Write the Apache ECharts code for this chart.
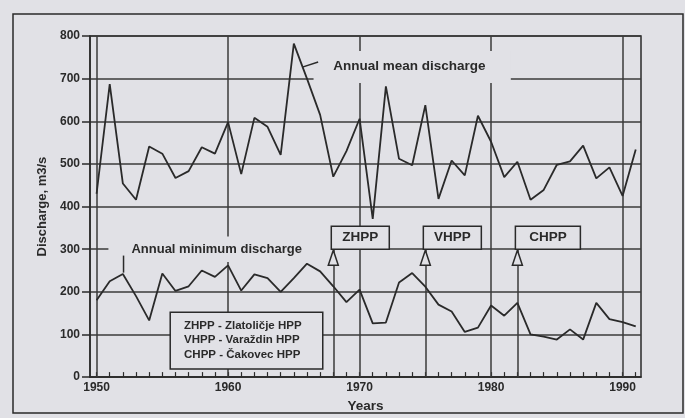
<!DOCTYPE html>
<html><head><meta charset="utf-8">
<script src="https://cdn.jsdelivr.net/npm/echarts@6/dist/echarts.min.js"></script>
<style>html,body{margin:0;padding:0;background:#e1e1e6;}#c{width:685px;height:418px;}</style>
</head><body><div id="c"></div>
<script>
// ---- data ----
const years = [1950,1951,1952,1953,1954,1955,1956,1957,1958,1959,
               1960,1961,1962,1963,1964,1965,1966,1967,1968,1969,
               1970,1971,1972,1973,1974,1975,1976,1977,1978,1979,
               1980,1981,1982,1983,1984,1985,1986,1987,1988,1989,
               1990,1991];
const meanDischarge = [430,687,454,416,541,524,467,483,539,524,
                       598,476,608,587,521,782,700,615,470,530,
                       606,371,682,512,497,638,418,508,473,613,
                       552,469,505,416,439,498,506,543,466,492,
                       425,534];
const minDischarge = [180,225,242,190,133,243,202,213,250,235,
                      262,203,241,232,200,232,266,248,213,176,
                      205,126,128,222,244,212,170,154,106,116,
                      168,144,174,100,95,88,112,88,174,136,
                      129,119];
const xLabelYears = [1950,1960,1970,1980,1990];
const decadeLines = [1950,1960,1970,1980,1990];
const hppYears = [1968,1975,1982];
const hppCodes = ['ZHPP','VHPP','CHPP'];
const legendLines = ['ZHPP - Zlatoličje HPP','VHPP - Varaždin HPP','CHPP - Čakovec HPP'];
const yTitle = 'Discharge, m3/s';
const xTitle = 'Years';
const meanLabel = 'Annual mean discharge';
const minLabel = 'Annual minimum discharge';

// ---- style ----
const BG = '#e1e1e6', INK = '#2a2a2a', GRID = '#3a3a3a';
const FONT = '"Liberation Sans", Arial, Helvetica, sans-serif';

const chart = echarts.init(document.getElementById('c'), null, {renderer:'canvas'});
const option = {
  animation: false,
  backgroundColor: BG,
  grid: {left: 90, right: 44, top: 36, bottom: 40, show: true, borderColor: INK, borderWidth: 1.5, backgroundColor: 'transparent'},
  xAxis: {
    type: 'value', min: 1949.5, max: 1991.4,
    axisLine: {show: true, lineStyle: {color: INK, width: 1.5}},
    axisTick: {show: true, inside: true, length: 5, customValues: years, lineStyle: {color: INK, width: 1.2}},
    axisLabel: {customValues: xLabelYears, margin: 5, color: INK, fontSize: 12, fontWeight: 'bold', fontFamily: FONT, formatter: v => String(v)},
    splitLine: {show: false},
    name: xTitle, nameLocation: 'middle', nameGap: 17,
    nameTextStyle: {color: INK, fontSize: 13.5, fontWeight: 'bold', fontFamily: FONT}
  },
  yAxis: {
    type: 'value', min: 0, max: 800, interval: 100,
    axisLine: {show: true, lineStyle: {color: INK, width: 1.5}},
    axisTick: {show: true, inside: false, length: 8, lineStyle: {color: INK, width: 1.5}},
    axisLabel: {margin: 10, color: INK, fontSize: 12, fontWeight: 'bold', fontFamily: FONT},
    splitLine: {show: true, lineStyle: {color: GRID, width: 1.5}},
    name: yTitle, nameLocation: 'middle', nameGap: 38, nameRotate: 90,
    nameTextStyle: {color: INK, fontSize: 13, fontWeight: 'bold', fontFamily: FONT}
  },
  series: [
    {
      type: 'line', name: meanLabel, data: years.map((y, i) => [y, meanDischarge[i]]),
      symbol: 'none', z: 4, lineStyle: {color: INK, width: 1.8},
      markLine: {
        silent: true, symbol: 'none', z: 1, animation: false,
        label: {show: false},
        lineStyle: {color: GRID, width: 1.5, type: 'solid'},
        data: decadeLines.map(x => ({xAxis: x})).concat(
              hppYears.map(x => [{coord: [x, 0]}, {coord: [x, 300]}]))
      }
    },
    {
      type: 'line', name: minLabel, data: years.map((y, i) => [y, minDischarge[i]]),
      symbol: 'none', z: 4, lineStyle: {color: INK, width: 1.8}
    }
  ]
};
chart.setOption(option);

const P = (x, y) => chart.convertToPixel({gridIndex: 0}, [x, y]);
const g = [];
// outer figure frame
g.push({type: 'rect', z: 3, shape: {x: 13, y: 14, width: 670, height: 399}, style: {fill: 'none', stroke: INK, lineWidth: 1.5}});
// mean label
let a = P(1966.5, 765), b = P(1981.5, 690);
g.push({type: 'rect', z: 2, shape: {x: a[0], y: a[1], width: b[0] - a[0], height: b[1] - a[1]}, style: {fill: BG}});
let t = P(1968.0, 730);
g.push({type: 'text', z: 3, x: t[0], y: t[1], style: {text: meanLabel, fill: INK, font: 'bold 13.5px ' + FONT, textAlign: 'left', textVerticalAlign: 'middle'}});
a = P(1965.65, 727); b = P(1966.85, 739);
g.push({type: 'line', z: 3, shape: {x1: a[0], y1: a[1], x2: b[0], y2: b[1]}, style: {stroke: INK, lineWidth: 1.5}});
// min label
const zBoxLeft = P(hppYears[0], 300)[0] - 2;
a = P(1950.9, 330); b = P(1950.9, 270);
g.push({type: 'rect', z: 2, shape: {x: a[0], y: a[1], width: zBoxLeft - a[0], height: b[1] - a[1]}, style: {fill: BG}});
t = P(1952.65, 300);
g.push({type: 'text', z: 3, x: t[0], y: t[1], style: {text: minLabel, fill: INK, font: 'bold 13px ' + FONT, textAlign: 'left', textVerticalAlign: 'middle'}});
a = P(1952.05, 245); b = P(1952.05, 285);
g.push({type: 'line', z: 3, shape: {x1: a[0], y1: a[1], x2: b[0], y2: b[1]}, style: {stroke: INK, lineWidth: 1.5}});
// legend box
a = P(1955.6, 152); b = P(1967.2, 19);
g.push({type: 'rect', z: 3, shape: {x: a[0], y: a[1], width: b[0] - a[0], height: b[1] - a[1]}, style: {fill: BG, stroke: INK, lineWidth: 1.5}});
const legVals = [120, 87, 53];
legendLines.forEach((s, i) => {
  const p = P(1956.65, legVals[i]);
  g.push({type: 'text', z: 4, x: p[0], y: p[1], style: {text: s, fill: INK, font: 'bold 11.5px ' + FONT, textAlign: 'left', textVerticalAlign: 'middle'}});
});
// HPP arrows and boxes
hppYears.forEach((yr, i) => {
  const tip = P(yr, 300);
  g.push({type: 'polygon', z: 3, shape: {points: [[tip[0], tip[1] + 1], [tip[0] - 5, tip[1] + 16], [tip[0] + 5, tip[1] + 16]]}, style: {fill: BG, stroke: INK, lineWidth: 1.5}});
  const w = i === 2 ? 65 : 58;
  g.push({type: 'rect', z: 3, shape: {x: tip[0] - 2, y: tip[1] - 23, width: w, height: 23}, style: {fill: BG, stroke: INK, lineWidth: 1.5}});
  g.push({type: 'text', z: 4, x: tip[0] - 2 + w / 2, y: tip[1] - 11.5, style: {text: hppCodes[i], fill: INK, font: 'bold 13.5px ' + FONT, textAlign: 'center', textVerticalAlign: 'middle'}});
});
chart.setOption({graphic: g});
</script></body></html>
